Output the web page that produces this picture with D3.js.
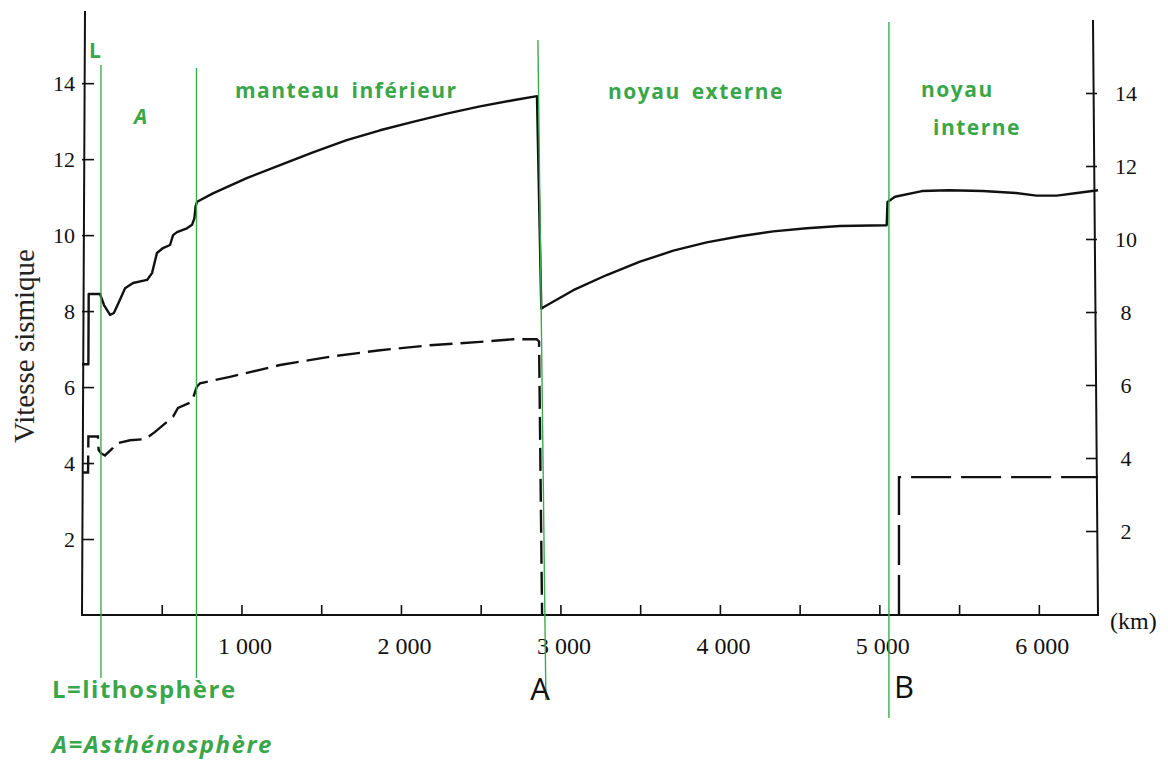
<!DOCTYPE html>
<html lang="fr">
<meta charset="utf-8">

<head>
	<title>Vitesse sismique</title>
</head>

<style type="text/css">

	body {
		margin: 0;
		background: white;
	}

	.axisLine {
		fill: none;
		stroke: #111;
		stroke-width: 2;
	}

	.tick line {
		stroke: #111;
		stroke-width: 1.6;
	}

	.tick text {
		font-family: 'Liberation Serif', 'Times New Roman', serif;
		font-size: 22px;
		fill: #111;
	}

	.bottomAxis .tick text {
		font-size: 24px;
	}

	.unit {
		font-family: 'Liberation Serif', 'Times New Roman', serif;
		font-size: 24px;
		fill: #111;
	}

	.axisTitle {
		font-family: 'Liberation Serif', 'Times New Roman', serif;
		font-size: 29px;
		fill: #222;
	}

	.vp {
		fill: none;
		stroke: #111;
		stroke-width: 2.4;
		stroke-linejoin: round;
	}

	.vs {
		fill: none;
		stroke: #111;
		stroke-width: 2.4;
		stroke-dasharray: 23,8;
	}

	.vsCore {
		stroke-dasharray: 40,10;
	}

	.boundary {
		stroke: #3aac4f;
		stroke-width: 1.4;
	}

	.zone {
		font-family: 'Comic Sans MS', 'Open Sans', sans-serif;
		font-weight: 700;
		font-size: 21px;
		fill: #3aa64a;
		letter-spacing: 1.5px;
		word-spacing: 4px;
	}

	.legend {
		font-size: 24px;
	}

	.mark {
		font-family: 'Comic Sans MS', 'Open Sans', sans-serif;
		font-size: 31px;
		fill: #111;
	}

</style>

<script src="https://d3js.org/d3.v7.min.js"></script>

<body>
	<script type="text/javascript">

		// ondes P (trait plein) : profondeur (km), vitesse (km/s)
		var vpDepth = [0, 40, 42, 113, 138, 176, 200, 238, 270, 320, 408, 439, 470, 508, 552, 571, 596, 658, 690, 705, 712, 722,
					   821, 1033, 1242, 1448, 1660, 1869, 2075, 2287, 2496, 2703, 2853, 2880,
					   2893, 3081, 3290, 3499, 3708, 3917, 4126, 4335, 4544, 4753, 5046,
					   5051, 5098, 5267, 5436, 5647, 5856, 5985, 6112, 6239, 6371];
		var vpSpeed = [6.6, 6.6, 8.45, 8.45, 8.16, 7.9, 7.95, 8.3, 8.6, 8.74, 8.82, 9.0, 9.53, 9.66, 9.74, 10.0, 10.08, 10.18, 10.27, 10.45, 10.75, 10.88,
					   11.1, 11.5, 11.84, 12.18, 12.5, 12.76, 12.98, 13.2, 13.39, 13.55, 13.66, 8.06,
					   8.1, 8.55, 8.95, 9.3, 9.59, 9.81, 9.97, 10.1, 10.18, 10.24, 10.26,
					   10.87, 11.01, 11.16, 11.18, 11.16, 11.11, 11.04, 11.04, 11.11, 11.18];

		// ondes S (tirets), manteau puis graine
		var vsDepth = [0, 38, 40, 100, 104, 119, 144, 194, 218, 301, 395, 458, 571, 602, 688, 719, 740,
					   928, 1242, 1555, 1869, 2182, 2496, 2703, 2851, 2866, 2885];
		var vsSpeed = [3.75, 3.75, 4.7, 4.7, 4.35, 4.26, 4.2, 4.4, 4.52, 4.6, 4.63, 4.82, 5.22, 5.45, 5.61, 6.0, 6.1,
					   6.27, 6.58, 6.8, 6.97, 7.1, 7.19, 7.26, 7.26, 7.2, 0];
		var vsCoreDepth = [5123, 5123, 6371];
		var vsCoreSpeed = [0, 3.63, 3.63];

		// limites des enveloppes (km)
		var boundaryDepth = [119, 718, 2884, 5060];

		var speedTicks = [2, 4, 6, 8, 10, 12, 14];
		var depthTicks = [500, 1000, 1500, 2000, 2500, 3000, 3500, 4000, 4500, 5000, 5500, 6000];

		var w = 1168,
			h = 763;

		var svg = d3.select("body")
					.append("svg")
					.attr("width", w)
					.attr("height", h);

		var x = d3.scaleLinear().domain([0, 6371]).range([82, 1098]);
		var y = d3.scaleLinear().domain([0, 15.9]).range([615, 11]);
		var yRight = d3.scaleLinear().domain([0, 14]).range([604, 93]);

		var fr = d3.formatLocale({decimal: ",", thousands: " ", grouping: [3], currency: ["", " €"]});
		var fmt = fr.format(",");

		// axes
		svg.append("path")
		   .attr("class", "axisLine")
		   .attr("d", "M" + (x(0) + 3) + "," + y(15.9) + "L" + x(0) + "," + y(0) +
		   			  "L" + x(6371) + "," + y(0) +
		   			  "L" + (x(6371) - 5) + "," + yRight(16));

		svg.append("g")
		   .attr("transform", "translate(" + x(0) + ",0)")
		   .call(d3.axisLeft(y).tickValues(speedTicks).tickSizeInner(-12).tickSizeOuter(0).tickPadding(7))
		   .call(function(g) { g.select(".domain").remove(); });

		svg.append("g")
		   .attr("transform", "translate(" + (x(6371) - 1) + ",0)")
		   .call(d3.axisRight(yRight).tickValues(speedTicks).tickSizeInner(-11).tickSizeOuter(0).tickPadding(29))
		   .call(function(g) {
		   		g.select(".domain").remove();
		   		g.selectAll(".tick text").attr("text-anchor", "middle");
		   });

		svg.append("g")
		   .attr("class", "bottomAxis")
		   .attr("transform", "translate(0," + y(0) + ")")
		   .call(d3.axisBottom(x).tickValues(depthTicks).tickSizeInner(-10).tickSizeOuter(0).tickPadding(22)
		   		.tickFormat(function(d) { return d % 1000 ? "" : fmt(d); }))
		   .call(function(g) {
		   		g.select(".domain").remove();
		   		g.selectAll(".tick text").attr("dx", 3);
		   });

		svg.append("text")
		   .attr("class", "unit")
		   .attr("x", 1110)
		   .attr("y", 629)
		   .text("(km)");

		svg.append("text")
		   .attr("class", "axisTitle")
		   .attr("text-anchor", "middle")
		   .attr("transform", "translate(34,346)rotate(-90)")
		   .text("Vitesse sismique");

		// courbes
		var line = d3.line()
					 .x(function(d) { return x(d[0]); })
					 .y(function(d) { return y(d[1]); });

		svg.append("path")
		   .datum(d3.zip(vsDepth, vsSpeed))
		   .attr("class", "vs")
		   .attr("d", line);

		svg.append("path")
		   .datum(d3.zip(vsCoreDepth, vsCoreSpeed))
		   .attr("class", "vs vsCore")
		   .attr("d", line);

		svg.append("path")
		   .datum(d3.zip(vpDepth, vpSpeed))
		   .attr("class", "vp")
		   .attr("d", line);

		// limites en vert : haut, bas, inclinaison (px)
		var boundaryLayout = [[65, 678, 0], [68, 678, 0], [40, 700, 8], [22, 718, 0]];

		boundaryDepth.forEach(function(d, i) {
			var b = boundaryLayout[i];
			svg.append("line")
			   .attr("class", "boundary")
			   .attr("x1", x(d) - b[2] / 2)
			   .attr("y1", b[0])
			   .attr("x2", x(d) + b[2] / 2)
			   .attr("y2", b[1]);
		});

		// noms des enveloppes
		var zones = [
			["L", 89, 58, false, ""],
			["A", 134, 124, true, ""],
			["manteau inférieur", 235, 98, false, ""],
			["noyau externe", 608, 99, false, ""],
			["noyau", 921, 97, false, ""],
			["interne", 933, 135, false, ""],
			["L=lithosphère", 52, 698, false, "legend"],
			["A=Asthénosphère", 52, 753, true, "legend"]
		];

		zones.forEach(function(z) {
			svg.append("text")
			   .attr("class", "zone " + z[4])
			   .attr("x", z[1])
			   .attr("y", z[2])
			   .style("font-style", z[3] ? "italic" : "normal")
			   .text(z[0]);
		});

		svg.append("text")
		   .attr("class", "mark")
		   .attr("text-anchor", "middle")
		   .attr("x", 540)
		   .attr("y", 700)
		   .text("A");

		svg.append("text")
		   .attr("class", "mark")
		   .attr("text-anchor", "middle")
		   .attr("x", 904)
		   .attr("y", 698)
		   .text("B");

	</script>
</body>

</html>
